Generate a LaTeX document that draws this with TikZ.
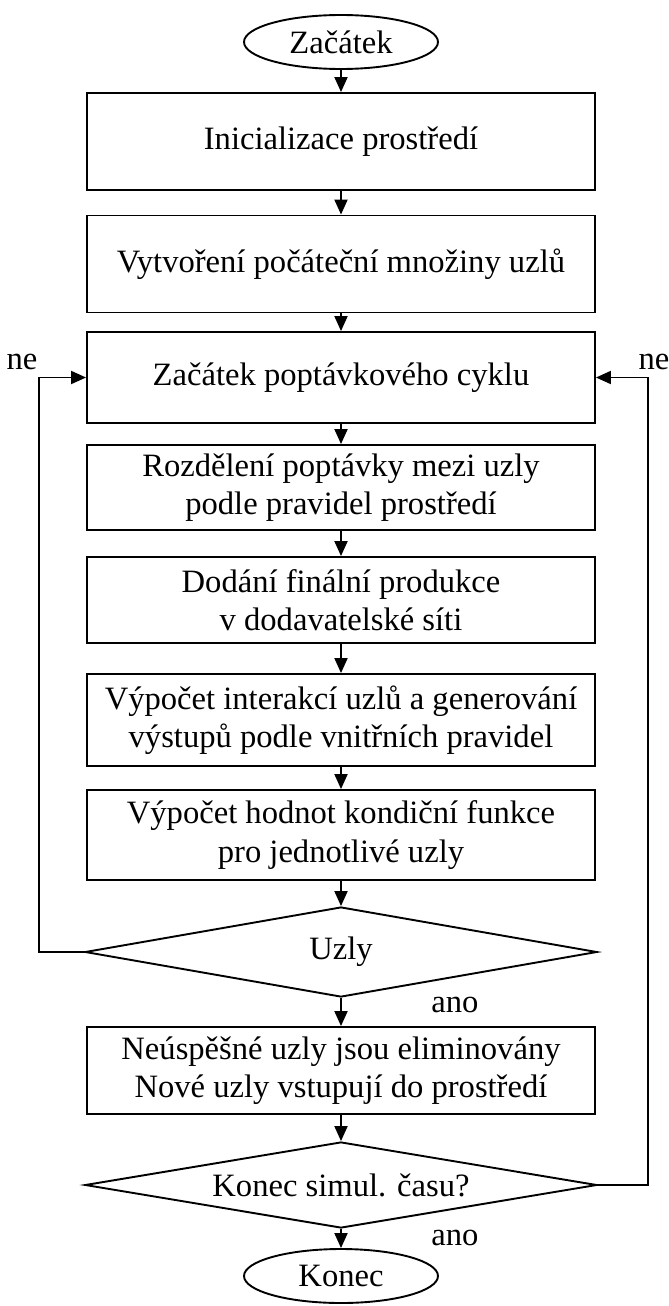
\documentclass[tikz,border=0pt]{standalone}
\usepackage{fontspec}
\setmainfont{Liberation Serif}
\usetikzlibrary{shapes,arrows.meta,positioning,calc}

\begin{document}
\begin{tikzpicture}[
    x=0.5pt, y=-0.5pt,
    font=\fontsize{16.3}{19.2}\selectfont,
    box/.style={rectangle, draw, line width=0.95pt, minimum width=254pt, align=center, inner sep=2pt},
    term/.style={ellipse, draw, line width=0.95pt, minimum width=97pt, minimum height=27pt, inner sep=0pt},
    decision/.style={diamond, draw, line width=0.95pt, minimum width=256pt, minimum height=45pt, shape aspect=5.7, inner sep=0pt},
    flow/.style={line width=0.95pt, -{Triangle[length=7.5pt,width=6.5pt]}},
    lbl/.style={inner sep=0pt},
]

\useasboundingbox (0,0) rectangle (669,1306);

% Terminals and process steps
\node[term] (start) at (341,42) {Začátek};
\node[box, minimum height=48.5pt] (init) at (341,141.5) {Inicializace prostředí};
\node[box, minimum height=48.5pt] (create) at (341,264) {Vytvoření počáteční množiny uzlů};
\node[box, minimum height=45.5pt] (cycle) at (341,377.5) {Začátek poptávkového cyklu};
\node[box, minimum height=42.5pt] (demand) at (341,487.5) {Rozdělení poptávky mezi uzly\\podle pravidel prostředí};
\node[box, minimum height=43pt] (deliver) at (341,600) {Dodání finální produkce\\v dodavatelské síti};
\node[box, minimum height=46pt] (interact) at (341,720) {Výpočet interakcí uzlů a generování\\výstupů podle vnitřních pravidel};
\node[box, minimum height=45pt] (fitness) at (341,835) {Výpočet hodnot kondiční funkce\\pro jednotlivé uzly};
\node[decision] (check) at (341,952) {Uzly};
\node[box, minimum height=43.5pt] (renew) at (341,1070.5) {Neúspěšné uzly jsou eliminovány\\Nové uzly vstupují do prostředí};
\node[decision, minimum height=43pt] (endsim) at (341,1185) {Konec simul. času?};
\node[term] (stop) at (341,1276) {Konec};

% Labels
\node[lbl] (ne_l) at (22,362) {ne};
\node[lbl] (ne_r) at (654,362) {ne};
\node[lbl] (ano_a) at (455,1005) {ano};
\node[lbl] (ano_b) at (455,1238) {ano};

% Main flow
\draw[flow] (start) -- (init);
\draw[flow] (init) -- (create);
\draw[flow] (create) -- (cycle);
\draw[flow] (cycle) -- (demand);
\draw[flow] (demand) -- (deliver);
\draw[flow] (deliver) -- (interact);
\draw[flow] (interact) -- (fitness);
\draw[flow] (fitness) -- (check);
\draw[flow] (check) -- (renew);
\draw[flow] (renew) -- (endsim);
\draw[flow] (endsim) -- (stop);

% Loops back
\coordinate (lx) at (39,0);
\coordinate (rx) at (648,0);
\draw[flow] (check.west) -| (lx |- cycle.west) -- (cycle.west);
\draw[flow] (endsim.east) -| (rx |- cycle.east) -- (cycle.east);

\end{tikzpicture}
\end{document}
